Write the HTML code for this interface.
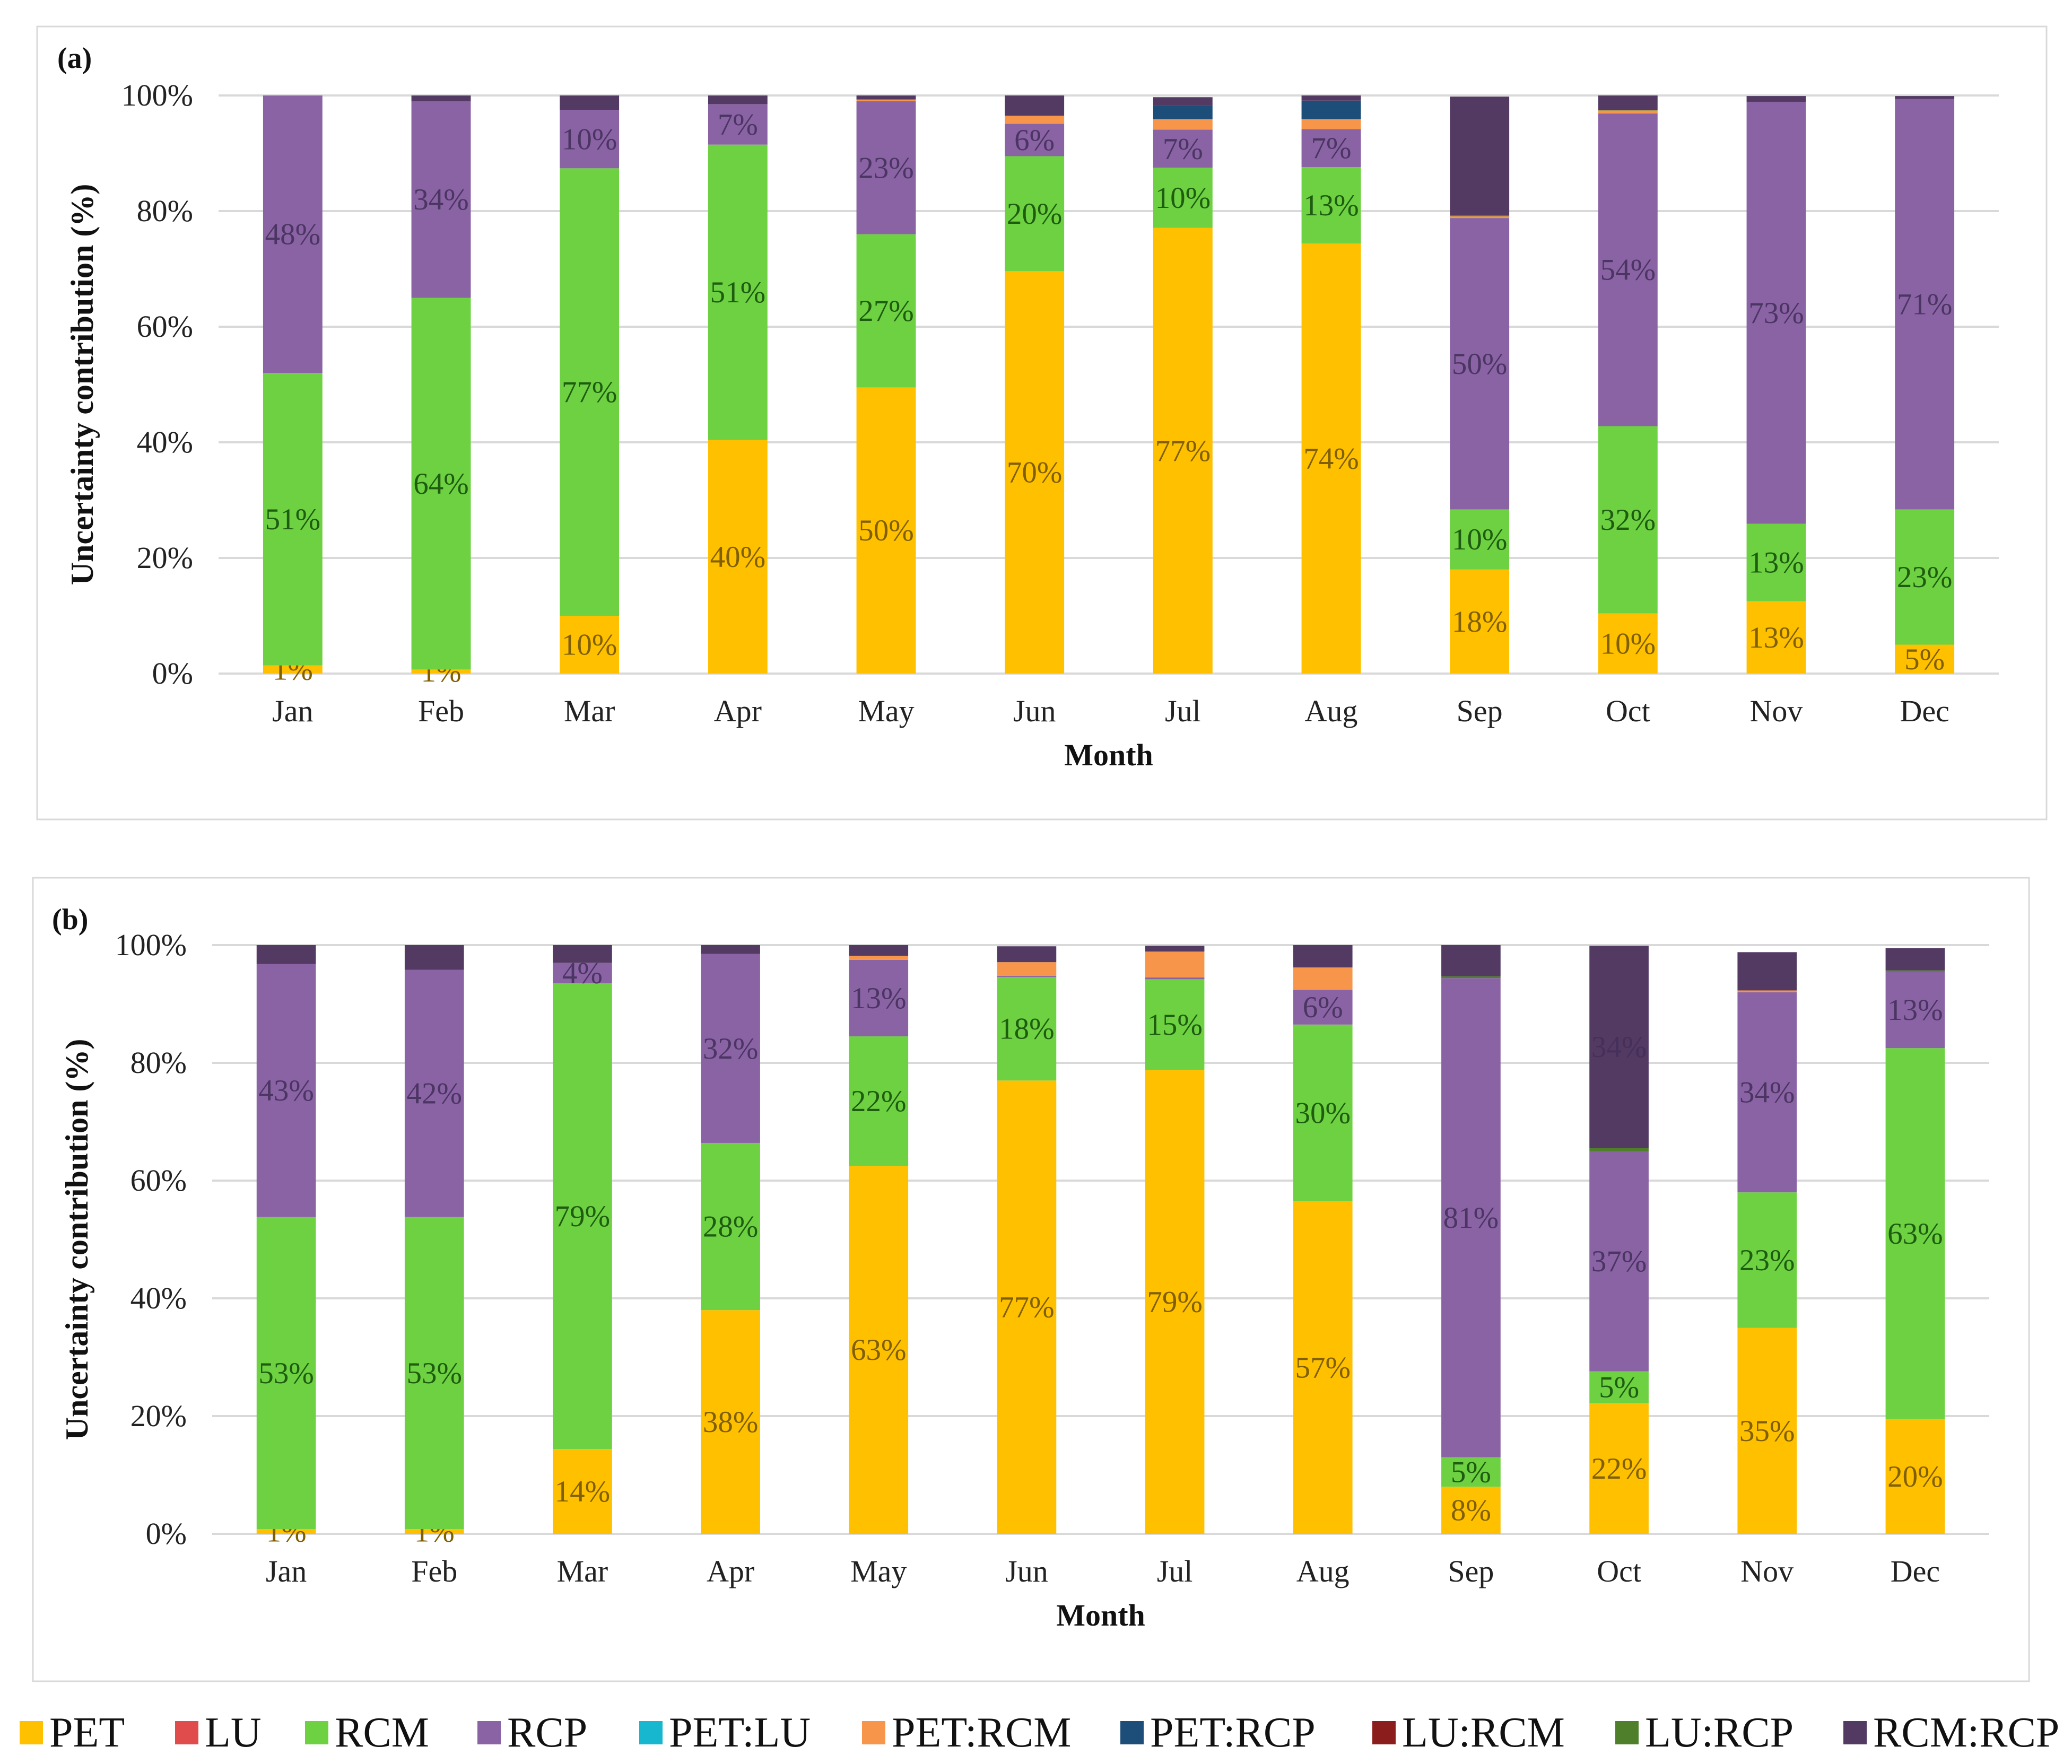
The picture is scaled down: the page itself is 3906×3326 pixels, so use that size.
<!DOCTYPE html>
<html><head><meta charset="utf-8"><style>
html,body{margin:0;padding:0;background:#fff}
svg text{font-family:"Liberation Serif",serif}
</style></head><body>
<svg id="fig" width="3906" height="3321" viewBox="0 0 3906 3321" xmlns="http://www.w3.org/2000/svg">
<rect x="70" y="50" width="3788" height="1495" fill="#fff" stroke="#d9d9d9" stroke-width="3"/>
<rect x="62" y="1655" width="3763" height="1515" fill="#fff" stroke="#d9d9d9" stroke-width="3"/>
<g id="ga"></g>
<g id="gb"></g>
<g id="legend"></g>
</svg>
<script>
const months=["Jan","Feb","Mar","Apr","May","Jun","Jul","Aug","Sep","Oct","Nov","Dec"];
const seriesNames=["PET","LU","RCM","RCP","PET:LU","PET:RCM","PET:RCP","LU:RCM","LU:RCP","RCM:RCP"];
const yTicks=[0,20,40,60,80,100];
const yTickLabels=["0%","20%","40%","60%","80%","100%"];
// Panel (a) values (%)
const aPET=[1.4,0.7,10,40.4,49.5,69.6,77.1,74.4,18,10.4,12.5,5];
const aLU=[0,0,0,0,0,0,0,0,0,0,0,0];
const aRCM=[50.6,64.3,77.4,51.1,26.5,19.9,10.4,13.2,10.4,32.4,13.4,23.4];
const aRCP=[48,34,10.1,7,23,5.6,6.6,6.6,50.4,54.1,73,71];
const aPETLU=[0,0,0,0,0,0,0,0,0,0,0,0];
const aPETRCM=[0,0,0,0,0.3,1.4,1.8,1.7,0.3,0.5,0,0];
const aPETRCP=[0,0,0,0,0,0,2.3,3.2,0,0,0,0];
const aLURCM=[0,0,0,0,0,0,0,0,0,0,0,0];
const aLURCP=[0,0,0,0,0,0,0,0,0.2,0.1,0,0];
const aRCMRCP=[0,1,2.5,1.5,0.7,3.5,1.5,0.9,20.5,2.5,1,0.5];
// Panel (b) values (%)
const bPET=[0.8,0.8,14.4,38,62.5,77,78.8,56.5,8,22.2,35,19.5];
const bLU=[0,0,0,0,0,0,0,0,0,0,0,0];
const bRCM=[53,53,79.1,28.4,22,17.6,15.4,30,5,5.4,23,63];
const bRCP=[43,42,3.5,32.1,13,0.2,0.3,5.9,81.4,37.4,34,13];
const bPETLU=[0,0,0,0,0,0,0,0,0,0,0,0];
const bPETRCM=[0,0,0,0,0.7,2.3,4.4,3.8,0,0,0.3,0];
const bPETRCP=[0,0,0,0,0,0,0,0,0,0,0,0];
const bLURCM=[0,0,0,0,0,0,0,0,0,0,0,0];
const bLURCP=[0,0,0,0,0,0,0,0,0.3,0.5,0,0.2];
const bRCMRCP=[3.2,4.2,3,1.5,1.8,2.7,1,3.8,5.3,34.4,6.5,3.8];

const colors=["#FFC000","#E04B4B","#6DD142","#8A63A5","#17B8CF","#F7964A","#1D4E79","#8B1D1D","#4F7F2A","#533A63"];
const labelColors={0:"#7F5F00",2:"#1E5C10",3:"#4B3562",9:"#44305a"};
const NS="http://www.w3.org/2000/svg";
function mk(tag,attrs,parent){const e=document.createElementNS(NS,tag);for(const k in attrs)e.setAttribute(k,attrs[k]);parent.appendChild(e);return e;}

function drawPanel(g,cfg,series){
  const yS=v=>cfg.y0+(cfg.y100-cfg.y0)*v/100;
  const band=(cfg.x1-cfg.x0)/months.length;
  const xC=i=>cfg.x0+band*(i+0.5);
  const bw=band*0.4;
  yTicks.forEach((t,k)=>{
    const l=mk('line',{x1:cfg.x0,x2:cfg.x1,y1:yS(t),y2:yS(t),stroke:'#d9d9d9','stroke-width':4},g);
    
    
    const tx=mk('text',{x:cfg.x0-48,y:yS(t)+19,'font-size':58,'text-anchor':'end',fill:'#222'},g);
    tx.textContent=yTickLabels[k];
    
    
  });
  months.forEach((m,i)=>{
    let cum=0;
    series.forEach((arr,s)=>{
      const v=arr[i]; if(v<=0)return;
      const r=mk('rect',{x:xC(i)-bw/2,y:yS(cum+v),width:bw,height:yS(cum)-yS(cum+v),fill:colors[s]},g);
      
      
      const show=((s===0||s===2||s===3)&&v>=0.5)||(s===9&&v>=30);
      if(show){
        const t=mk('text',{x:xC(i),y:yS(cum+v/2)+19,'font-size':57,'text-anchor':'middle',fill:labelColors[s]},g);
        t.textContent=Math.round(v)+'%';
        
        
      }
      cum+=v;
    });
    const ml=mk('text',{x:xC(i),y:cfg.y0+90,'font-size':58,'text-anchor':'middle',fill:'#222'},g);
    ml.textContent=m;
    
    
  });
  const xt=mk('text',{x:(cfg.x0+cfg.x1)/2,y:cfg.y0+173,'font-size':58,'font-weight':'bold','text-anchor':'middle',fill:'#111'},g);
  xt.textContent='Month';
  
  
  const yc=(cfg.y0+cfg.y100)/2;
  const yt=mk('text',{x:cfg.ytx,y:yc,'font-size':60,'font-weight':'bold','text-anchor':'middle',fill:'#111',transform:`rotate(-90 ${cfg.ytx} ${yc})`},g);
  yt.textContent='Uncertainty contribution (%)';
  
  
  const pl=mk('text',{x:cfg.px,y:cfg.py,'font-size':56,'font-weight':'bold',fill:'#111'},g);
  pl.textContent=cfg.label;
  
  
}
drawPanel(document.getElementById('ga'),{x0:412,x1:3768,y0:1270,y100:180,ytx:175,px:108,py:128,label:'(a)'},
  [aPET,aLU,aRCM,aRCP,aPETLU,aPETRCM,aPETRCP,aLURCM,aLURCP,aRCMRCP]);
drawPanel(document.getElementById('gb'),{x0:400,x1:3750,y0:2892,y100:1782,ytx:165,px:98,py:1752,label:'(b)'},
  [bPET,bLU,bRCM,bRCP,bPETLU,bPETRCM,bPETRCP,bLURCM,bLURCP,bRCMRCP]);
const legX=[37,330,575,900,1205,1625,2112,2587,3045,3475];
const lg=document.getElementById('legend');
seriesNames.forEach((n,s)=>{
  const r=mk('rect',{x:legX[s],y:3245,width:44,height:44,fill:colors[s]},lg);
  
  
  const t=mk('text',{x:legX[s]+56,y:3293,'font-size':80,fill:'#111'},lg);
  t.textContent=n;
  
  
});
</script>
</body></html>
